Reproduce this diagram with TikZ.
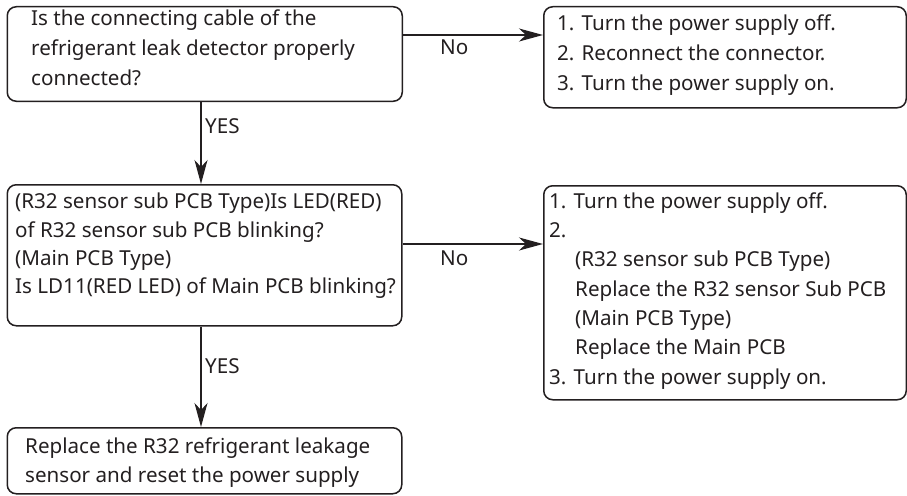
\documentclass[tikz,border=0pt]{standalone}
\usepackage{fontspec}
\setmainfont{Noto Sans}
\usetikzlibrary{arrows.meta}
\definecolor{ink}{HTML}{231F20}
\begin{document}
\begin{tikzpicture}[x=1pt,y=-1pt,
  box/.style={draw=ink, line width=1.5pt, rounded corners=9pt, anchor=north west, inner sep=0pt},
  txt/.style={anchor=base west, inner sep=0pt, text=ink, font=\fontsize{20.6}{24}\selectfont},
  arr/.style={draw=ink, line width=1.3pt, -{Stealth[length=24pt,width=13pt,inset=7pt]}}]
\useasboundingbox (0,0) rectangle (907,495);
% boxes
\node[box, minimum width=395pt, minimum height=94.5pt] (b1) at (6.5,6) {};
\node[box, minimum width=362.5pt, minimum height=101pt] (b2) at (543,6) {};
\node[box, minimum width=394.5pt, minimum height=141pt] (b3) at (6.5,184) {};
\node[box, minimum width=362.5pt, minimum height=214pt] (b4) at (543,185) {};
\node[box, minimum width=394.5pt, minimum height=66pt] (b5) at (6.5,427) {};
% box texts
\node[txt] (t1a) at (31,26) {Is the connecting cable of the};
\node[txt] (t1b) at (31,55.5) {refrigerant leak detector properly};
\node[txt] (t1c) at (31,85) {connected?};
\node[txt] (t2a) at (557,31) {1. Turn the power supply off.};
\node[txt] (t2b) at (557,61) {2. Reconnect the connector.};
\node[txt] (t2c) at (557,90) {3. Turn the power supply on.};
\node[txt] (t3a) at (15,208) {(R32 sensor sub PCB Type)Is LED(RED)};
\node[txt] (t3b) at (15,237) {of R32 sensor sub PCB blinking?};
\node[txt] (t3c) at (15,265) {(Main PCB Type)};
\node[txt] (t3d) at (15,293) {Is LD11(RED LED) of Main PCB blinking?};
\node[txt] (t4a) at (549,208) {1. Turn the power supply off.};
\node[txt] (t4b) at (549,237.3) {2.};
\node[txt] (t4c) at (575,266.6) {(R32 sensor sub PCB Type)};
\node[txt] (t4d) at (575,296) {Replace the R32 sensor Sub PCB};
\node[txt] (t4e) at (575,325) {(Main PCB Type)};
\node[txt] (t4f) at (575,354.6) {Replace the Main PCB};
\node[txt] (t4g) at (549,384) {3. Turn the power supply on.};
\node[txt] (t5a) at (25,453) {Replace the R32 refrigerant leakage};
\node[txt] (t5b) at (25,482) {sensor and reset the power supply};
% labels
\node[txt] (no1) at (440,55) {No};
\node[txt] (no2) at (440,265) {No};
\node[txt] (yes1) at (205,133) {YES};
\node[txt] (yes2) at (205,373) {YES};
% connectors
\coordinate (r1) at (0,35);
\coordinate (r2) at (0,244);
\coordinate (c1) at (201,0);
\draw[arr] (b1.east |- r1) -- (b2.west |- r1);
\draw[arr] (b3.east |- r2) -- (b4.west |- r2);
\draw[arr] (b1.south -| c1) -- (b3.north -| c1);
\draw[arr] (b3.south -| c1) -- (b5.north -| c1);
\end{tikzpicture}
\end{document}
